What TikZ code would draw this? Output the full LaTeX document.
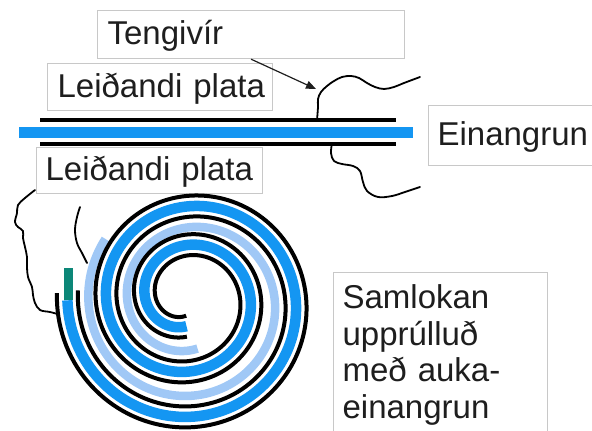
\documentclass[tikz,border=0pt]{standalone}
\usepackage{fontspec}
\setmainfont{Liberation Sans}
\usetikzlibrary{arrows.meta}

\definecolor{coilblue}{RGB}{20,150,242}
\definecolor{coilpale}{RGB}{160,200,246}
\definecolor{tabteal}{RGB}{12,135,120}
\definecolor{boxgray}{RGB}{200,200,200}
\definecolor{inkgray}{RGB}{30,30,30}

\begin{document}
\begin{tikzpicture}[x=1pt,y=-1pt,
  textbox/.style={draw=boxgray, line width=1.2pt, fill=white, anchor=north west,
    inner xsep=10pt, inner ysep=0pt, align=left,
    font=\fontsize{33}{36.5}\selectfont, text=inkgray},
  labelbox/.style={textbox, text height=26pt, text depth=6pt},
  plate/.style={line width=4pt, black},
  insulator/.style={line width=10.5pt, coilblue},
  wire/.style={line width=1.8pt, black, line join=round, line cap=round},
  foil/.style={line width=4pt, black},
  film/.style={line width=10.5pt, coilblue},
  extrafilm/.style={line width=8.5pt, coilpale},
]
\useasboundingbox (0,0) rectangle (592,431);

% flat capacitor: two plates with the insulator between them
\coordinate (pa1) at (40,120);   \coordinate (pa2) at (396,120);
\coordinate (ins1) at (19,132.5); \coordinate (ins2) at (413,132.5);
\coordinate (pb1) at (40,143.5); \coordinate (pb2) at (396,143.5);
\draw[plate] (pa1) -- (pa2);
\draw[insulator] (ins1) -- (ins2);
\draw[plate] (pb1) -- (pb2);

% lead wires of the flat capacitor
\coordinate (topjoin) at (317,120);
\coordinate (botjoin) at (332,143.5);
\draw[wire] plot[smooth, tension=0.6] coordinates {(topjoin) (318,107) (318,99) (321,92)
  (327,86) (334,81) (342,77) (351,76) (359,78) (367,83) (375,87) (384,89) (394,87)
  (404,83) (420,77)};
\draw[wire] plot[smooth, tension=0.6] coordinates {(botjoin) (331,153) (334,161) (342,164)
  (353,166) (360,171) (363,182) (367,191) (378,197) (392,196) (405,192) (420,187)};

% labels
\node[labelbox, text width=287pt, minimum height=48pt] (tengi) at (97,10) {Tengivír};
\node[labelbox, text width=205pt, minimum height=47pt] (platetop) at (47,63) {Leiðandi~plata};
\node[labelbox, text width=208pt, minimum height=46pt, inner xsep=9pt] (platebot) at (36,147) {Leiðandi~plata};
\node[labelbox, text width=170pt, minimum height=60pt, inner xsep=9pt] (insul) at (428,105) {Einangrun};
\node[textbox, text width=196pt, minimum height=165pt, inner xsep=9pt]
  (rolled) at (333,272) {Samlokan\\upprúlluð\\með auka-\\einangrun};

% pointer to the lead wire
\coordinate (arrowtip) at (316,89);
\draw[-{Triangle[length=10pt,width=8pt]}, line width=1.2pt, inkgray] (tengi.south) -- (arrowtip);

% rolled-up sandwich: slowly drifting Archimedean coil, 42pt per turn, winding inwards
\draw[extrafilm] plot[domain=-36:460, samples=200, variable=\s]
  ({193-0.0093*\s+(104.5-0.116667*\s)*cos(180-\s)},{302.5-0.00875*\s+(104.5-0.116667*\s)*sin(180-\s)});
\draw[film] plot[domain=-1:812, samples=320, variable=\s]
  ({193-0.0093*\s+(125.5-0.116667*\s)*cos(180-\s)},{302.5-0.00875*\s+(125.5-0.116667*\s)*sin(180-\s)});
\draw[foil] plot[domain=-4:812, samples=320, variable=\s]
  ({193-0.0093*\s+(136-0.116667*\s)*cos(180-\s)},{302.5-0.00875*\s+(136-0.116667*\s)*sin(180-\s)});
\draw[foil] plot[domain=-6:812, samples=320, variable=\s]
  ({193-0.0093*\s+(115-0.116667*\s)*cos(180-\s)},{302.5-0.00875*\s+(115-0.116667*\s)*sin(180-\s)});
\fill[tabteal] (63.5,268) rectangle (73,299.5);

% lead wires of the rolled capacitor
\coordinate (wireAend) at (35,190);
\coordinate (coilA) at (57.5,314);
\draw[wire] plot[smooth, tension=0.6] coordinates {(wireAend) (25,198) (18,205) (17,213)
  (15,222) (18,227) (23,231) (23,238) (25,247) (27,257) (27,267) (28,277) (32,287)
  (33,295) (35,303) (40,310) (50,312) (coilA)};
\coordinate (wireBtop) at (80,207);
\coordinate (wireBend) at (87,263);
\draw[wire] plot[smooth, tension=0.6] coordinates {(wireBtop) (77,217) (75,230) (77,243)
  (82,253) (wireBend)};
\end{tikzpicture}
\end{document}
